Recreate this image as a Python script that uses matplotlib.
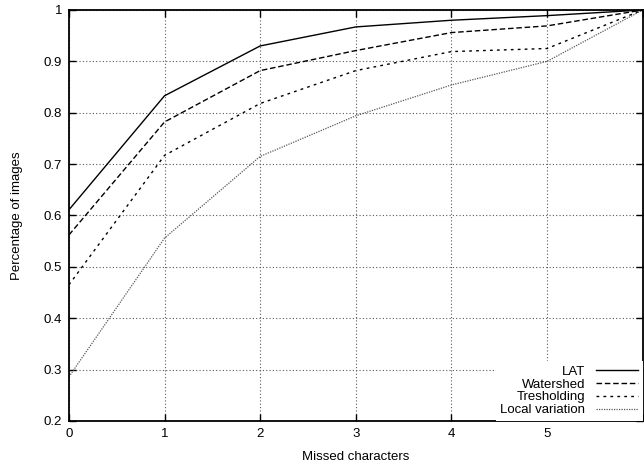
import matplotlib
matplotlib.use("Agg")
import matplotlib.pyplot as plt

plt.rcParams["font.family"] = ["Liberation Sans", "DejaVu Sans"]

# values
missed = [0, 1, 2, 3, 4, 5, 6]
lat = [0.611, 0.833, 0.930, 0.967, 0.980, 0.989, 1.0]
watershed = [0.562, 0.782, 0.882, 0.921, 0.956, 0.969, 1.0]
tresholding = [0.465, 0.717, 0.818, 0.882, 0.919, 0.925, 1.0]
local_variation = [0.286, 0.556, 0.715, 0.794, 0.854, 0.900, 1.0]

x_ticks = [0, 1, 2, 3, 4, 5, 6]
x_tick_labels = ["0", "1", "2", "3", "4", "5", ""]
y_ticks = [0.2, 0.3, 0.4, 0.5, 0.6, 0.7, 0.8, 0.9, 1.0]
y_tick_labels = ["0.2", "0.3", "0.4", "0.5", "0.6", "0.7", "0.8", "0.9", "1"]

fig = plt.figure(figsize=(6.44, 4.66), dpi=100)
ax = fig.add_axes([0.107, 0.0966, 0.891, 0.882])

ax.plot(missed, lat, color="black", lw=1.0, ls="-", label="LAT")
ax.plot(missed, watershed, color="black", lw=1.0, ls=(0, (4, 2)), label="Watershed")
ax.plot(missed, tresholding, color="black", lw=1.0, ls=(0, (2, 3)), label="Tresholding")
ax.plot(missed, local_variation, color="0.35", lw=0.9, ls=(0, (1, 1)),
        label="Local variation")

ax.set_xlim(0, 6)
ax.set_ylim(0.2, 1.0)
ax.set_xticks(x_ticks)
ax.set_xticklabels(x_tick_labels)
ax.set_yticks(y_ticks)
ax.set_yticklabels(y_tick_labels)

ax.grid(True, color="0.35", ls=(0, (1, 2)), lw=0.8)
ax.set_axisbelow(True)
ax.tick_params(direction="in", top=True, right=True, length=5, width=1,
               labelsize=9.5, pad=5)
for s in ax.spines.values():
    s.set_linewidth(1.3)

ax.set_xlabel("Missed characters", fontsize=9.5, labelpad=8)
ax.set_ylabel("Percentage of images", fontsize=9.5, labelpad=15)

leg = ax.legend(loc="lower right", markerfirst=False, fontsize=9.5,
                frameon=True, facecolor="white", edgecolor="white",
                framealpha=1.0, fancybox=False, labelspacing=0.05,
                handlelength=3.2, handletextpad=0.8, borderpad=0.35,
                borderaxespad=0.0)
leg.get_frame().set_linewidth(0)

fig.savefig("out.png", dpi=100)
